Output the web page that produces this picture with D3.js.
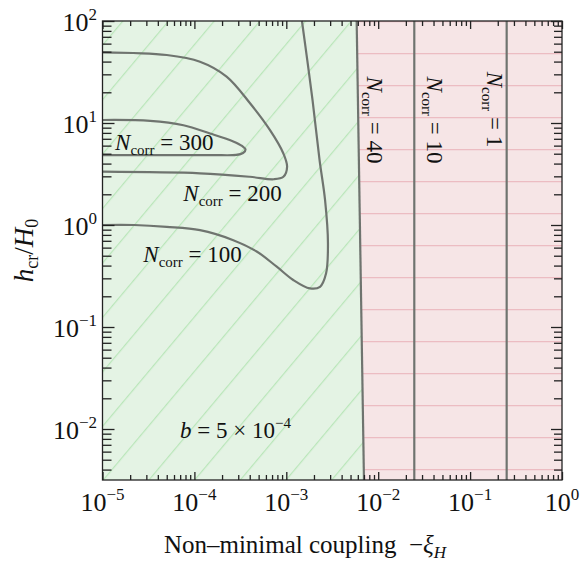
<!DOCTYPE html>
<html><head><meta charset="utf-8">
<script src="https://cdn.jsdelivr.net/npm/d3@7"></script>
<style>
html,body{margin:0;padding:0;background:#fff;}
svg text{font-family:"Liberation Serif","DejaVu Serif",serif;fill:#111;}
</style></head>
<body>
<svg id="chart" width="582" height="561" font-family="Liberation Serif"></svg>
<script>
// ---- data ----
const xDomain = [1e-5, 1];
const yDomain = [Math.pow(10, -2.5), 100];
const xMajorTicks = [1e-5, 1e-4, 1e-3, 1e-2, 1e-1, 1];
const xTickExponents = ["\u22125", "\u22124", "\u22123", "\u22122", "\u22121", "0"];
const yMajorTicks = [1e-2, 1e-1, 1, 10, 100];
const yTickExponents = ["\u22122", "\u22121", "0", "1", "2"];

// boundary of allowed region (N_corr = 40) and other vertical contours
const contourN40 = [[5.83e-3, 100], [7.0e-3, Math.pow(10, -2.5)]];
const contourN10 = [[0.0247, 100], [0.0247, Math.pow(10, -2.5)]];
const contourN1 = [[0.25, 100], [0.25, Math.pow(10, -2.5)]];

const contourN300 = [[1e-5,10.7],[3.3e-5,10.5],[7.6e-5,9.5],[1.48e-4,7.9],[2.65e-4,6.6],[3.3e-4,5.96],[3.6e-4,5.5],[3.38e-4,5.08],[2.84e-4,4.87],[1.5e-4,4.85],[1e-5,4.85]];
const contourN200 = [[1e-5,49.3],[5.0e-5,46.4],[1.15e-4,39.9],[2.24e-4,28.5],[4.03e-4,15.6],[6.65e-4,8.5],[9.27e-4,5.05],[1.02e-3,3.73],[9.3e-4,2.97],[7.3e-4,2.81],[4.0e-4,2.97],[1.15e-4,3.21],[1e-5,3.33]];
const contourN100 = [[1e-5,1.0],[2.2e-5,1.0],[5.0e-5,0.96],[1.15e-4,0.89],[2.65e-4,0.71],[4.76e-4,0.55],[7.87e-4,0.39],[1.19e-3,0.289],[1.81e-3,0.239],[2.33e-3,0.248],[2.71e-3,0.336],[2.84e-3,0.66],[2.64e-3,1.76],[2.30e-3,4.34],[1.93e-3,16.8],[1.69e-3,41.5],[1.48e-3,100]];

const contourLabels = [
  {n: "300", x: 1.37e-5, y: 5.43},
  {n: "200", x: 7.57e-5, y: 1.73},
  {n: "100", x: 2.78e-5, y: 0.436}
];
const verticalLabels = [
  {n: "40", x: 7.5e-3, y: 28.5},
  {n: "10", x: 0.0337, y: 28.5},
  {n: "1", x: 0.152, y: 31.8}
];

// ---- layout ----
const L = 102.5, R = 562, T = 21, B = 480;
const svg = d3.select("#chart");
const x = d3.scaleLog().domain(xDomain).range([L, R]);
const y = d3.scaleLog().domain(yDomain).range([B, T]);

const defs = svg.append("defs");
const hatchG = defs.append("pattern").attr("id", "hatchG")
  .attr("patternUnits", "userSpaceOnUse").attr("width", 35).attr("height", 20)
  .attr("patternTransform", "translate(" + L + "," + B + ") rotate(40)");
hatchG.append("rect").attr("width", 35).attr("height", 20).attr("fill", "#e4f3e4");
hatchG.append("line").attr("x1", 0.6).attr("y1", 0).attr("x2", 0.6).attr("y2", 20)
  .attr("stroke", "#b9e6b9").attr("stroke-width", 1.2);

const hatchR = defs.append("pattern").attr("id", "hatchR")
  .attr("patternUnits", "userSpaceOnUse").attr("width", 50).attr("height", 32)
  .attr("x", 0).attr("y", T);
hatchR.append("rect").attr("width", 50).attr("height", 32).attr("fill", "#f6e5e6");
hatchR.append("line").attr("x1", 0).attr("y1", 0.6).attr("x2", 50).attr("y2", 0.6)
  .attr("stroke", "#ecbcc2").attr("stroke-width", 1.2);

const poly = d3.line().x(d => x(d[0])).y(d => y(d[1]));
const greenRegion = [[xDomain[0], yDomain[1]], contourN40[0], contourN40[1], [xDomain[0], yDomain[0]]];
const redRegion = [contourN40[0], [xDomain[1], yDomain[1]], [xDomain[1], yDomain[0]], contourN40[1]];
svg.append("path").attr("d", poly(greenRegion) + "Z").attr("fill", "url(#hatchG)");
svg.append("path").attr("d", poly(redRegion) + "Z").attr("fill", "url(#hatchR)");

// contours
const curve = d3.line().x(d => x(d[0])).y(d => y(d[1])).curve(d3.curveCatmullRom.alpha(0.5));
const lineColor = "#6f746f";
[contourN300, contourN200, contourN100].forEach(c => {
  svg.append("path").attr("d", curve(c)).attr("fill", "none")
    .attr("stroke", lineColor).attr("stroke-width", 2.2);
});
[contourN40, contourN10, contourN1].forEach(c => {
  svg.append("path").attr("d", poly(c)).attr("fill", "none")
    .attr("stroke", lineColor).attr("stroke-width", 2.2);
});

// frame
svg.append("rect").attr("x", L).attr("y", T).attr("width", R - L).attr("height", B - T)
  .attr("fill", "none").attr("stroke", "#222").attr("stroke-width", 1.3);

// ticks
const xMinor = x.ticks().filter(v => !xMajorTicks.some(m => Math.abs(m - v) / m < 1e-6));
const yMinor = y.ticks().filter(v => !yMajorTicks.some(m => Math.abs(m - v) / m < 1e-6));
function addAxis(axisFn, scale, vals, size, transform) {
  const g = svg.append("g").attr("transform", transform)
    .call(axisFn(scale).tickValues(vals).tickSize(-size).tickFormat(""));
  g.select(".domain").remove();
  g.selectAll("line").attr("stroke", "#222").attr("stroke-width", 1.3);
}
addAxis(d3.axisBottom, x, xMajorTicks, 8, `translate(0,${B})`);
addAxis(d3.axisBottom, x, xMinor, 5, `translate(0,${B})`);
addAxis(d3.axisTop, x, xMajorTicks, 8, `translate(0,${T})`);
addAxis(d3.axisTop, x, xMinor, 5, `translate(0,${T})`);
addAxis(d3.axisLeft, y, yMajorTicks, 12, `translate(${L},0)`);
addAxis(d3.axisLeft, y, yMinor, 9, `translate(${L},0)`);
addAxis(d3.axisRight, y, yMajorTicks, 11, `translate(${R},0)`);
addAxis(d3.axisRight, y, yMinor, 8, `translate(${R},0)`);

// tick labels
const FS = 26, SUP = 17;
xMajorTicks.forEach((v, i) => {
  const t = svg.append("text").attr("x", x(v)).attr("y", 511).attr("text-anchor", "middle")
    .attr("font-size", FS);
  t.append("tspan").text("10");
  t.append("tspan").attr("font-size", SUP).attr("dy", -11).text(xTickExponents[i]);
});
yMajorTicks.forEach((v, i) => {
  const t = svg.append("text").attr("x", 97).attr("y", y(v) + 10).attr("text-anchor", "end")
    .attr("font-size", FS);
  t.append("tspan").text("10");
  t.append("tspan").attr("font-size", SUP).attr("dy", -11).text(yTickExponents[i]);
});

// contour labels
function nLabel(sel, n) {
  sel.append("tspan").attr("font-style", "italic").text("N");
  sel.append("tspan").attr("font-size", 15).attr("dy", 5).text("corr");
  sel.append("tspan").attr("dy", -5).text(" = " + n);
}
contourLabels.forEach(d => {
  const t = svg.append("text").attr("x", x(d.x)).attr("y", y(d.y)).attr("font-size", 23);
  nLabel(t, d.n);
});
verticalLabels.forEach(d => {
  const t = svg.append("text").attr("transform", `translate(${x(d.x)},${y(d.y)}) rotate(90)`)
    .attr("font-size", 23);
  nLabel(t, d.n);
});

// b label
const bl = svg.append("text").attr("x", x(6.97e-5)).attr("y", y(8.1e-3)).attr("font-size", 23);
bl.append("tspan").attr("font-style", "italic").text("b");
bl.append("tspan").text(" = 5 \u00d7 10");
bl.append("tspan").attr("font-size", 15).attr("dy", -10).text("\u22124");

// axis titles
const xl = svg.append("text").attr("x", 305).attr("y", 553).attr("text-anchor", "middle").attr("font-size", 25);
xl.append("tspan").text("Non\u2013minimal coupling\u2002\u2212");
xl.append("tspan").attr("font-style", "italic").text("\u03be");
xl.append("tspan").attr("font-style", "italic").attr("font-size", 17).attr("dy", 5).text("H");

const yl = svg.append("text").attr("transform", `translate(33,${(T + B) / 2}) rotate(-90)`)
  .attr("text-anchor", "middle").attr("font-size", 27);
yl.append("tspan").attr("font-style", "italic").text("h");
yl.append("tspan").attr("font-size", 18).attr("dy", 5).text("cr");
yl.append("tspan").attr("dy", -5).text("/");
yl.append("tspan").attr("font-style", "italic").text("H");
yl.append("tspan").attr("font-size", 18).attr("dy", 5).text("0");
</script>
</body></html>
